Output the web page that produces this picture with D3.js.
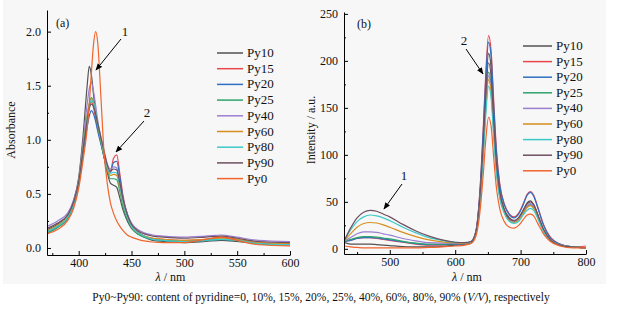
<!DOCTYPE html>
<html>
<head>
<meta charset="utf-8">
<script src="https://cdn.jsdelivr.net/npm/d3@7"></script>
<style>
  body { margin: 0; background: #fff; }
  svg text { font-family: 'Liberation Serif', 'Times New Roman', 'DejaVu Serif', serif !important; }
</style>
</head>
<body>
<div id="chart"></div>
<script>
// ---- data -----------------------------------------------------------------
const seriesNames = ['Py10', 'Py15', 'Py20', 'Py25', 'Py40', 'Py60', 'Py80', 'Py90', 'Py0'];
const seriesColors = ['#525252', '#e8474c', '#2f6fc4', '#2ea36e', '#9b7fd0', '#d68f1e', '#3ec9c9', '#6e5060', '#f2642c'];

// (a) absorbance
const waveA = [370, 380, 390, 395, 400, 404, 408, 410, 412, 414, 416, 418, 421, 424, 427, 430, 433, 436, 439, 442, 446, 450, 456, 462, 470, 480, 500, 520, 535, 550, 570, 600];
const absPy10 = [0.17, 0.22, 0.31, 0.43, 0.65, 1.02, 1.5, 1.68, 1.6, 1.42, 1.25, 1.12, 0.98, 0.84, 0.7, 0.6, 0.58, 0.56, 0.46, 0.35, 0.25, 0.18, 0.13, 0.1, 0.07, 0.06, 0.05, 0.06, 0.07, 0.06, 0.04, 0.03];
const absPy15 = [0.14, 0.19, 0.28, 0.39, 0.58, 0.88, 1.18, 1.3, 1.35, 1.3, 1.2, 1.1, 0.98, 0.86, 0.7, 0.71, 0.83, 0.86, 0.68, 0.48, 0.31, 0.21, 0.15, 0.11, 0.09, 0.08, 0.07, 0.08, 0.1, 0.08, 0.05, 0.04];
const absPy20 = [0.15, 0.2, 0.29, 0.4, 0.58, 0.86, 1.12, 1.22, 1.27, 1.24, 1.17, 1.08, 0.96, 0.84, 0.73, 0.7, 0.79, 0.8, 0.65, 0.46, 0.3, 0.2, 0.14, 0.11, 0.08, 0.07, 0.06, 0.07, 0.08, 0.07, 0.04, 0.03];
const absPy25 = [0.14, 0.19, 0.28, 0.39, 0.6, 0.92, 1.22, 1.33, 1.39, 1.35, 1.25, 1.13, 0.98, 0.84, 0.72, 0.64, 0.64, 0.63, 0.52, 0.38, 0.27, 0.19, 0.13, 0.1, 0.08, 0.07, 0.06, 0.07, 0.08, 0.07, 0.04, 0.03];
const absPy40 = [0.2, 0.25, 0.33, 0.44, 0.63, 0.96, 1.33, 1.47, 1.53, 1.45, 1.32, 1.18, 1.03, 0.9, 0.78, 0.73, 0.75, 0.74, 0.6, 0.45, 0.32, 0.23, 0.17, 0.14, 0.12, 0.11, 0.1, 0.11, 0.12, 0.1, 0.07, 0.06];
const absPy60 = [0.16, 0.21, 0.3, 0.41, 0.61, 0.93, 1.22, 1.33, 1.38, 1.34, 1.25, 1.14, 1.0, 0.86, 0.74, 0.67, 0.68, 0.67, 0.55, 0.41, 0.29, 0.2, 0.14, 0.11, 0.09, 0.08, 0.07, 0.08, 0.09, 0.08, 0.05, 0.04];
const absPy80 = [0.15, 0.2, 0.29, 0.4, 0.6, 0.91, 1.2, 1.32, 1.37, 1.34, 1.26, 1.15, 1.01, 0.87, 0.75, 0.69, 0.7, 0.69, 0.57, 0.42, 0.29, 0.2, 0.14, 0.11, 0.08, 0.07, 0.06, 0.07, 0.08, 0.07, 0.04, 0.03];
const absPy90 = [0.18, 0.23, 0.31, 0.42, 0.61, 0.9, 1.18, 1.29, 1.33, 1.31, 1.24, 1.15, 1.02, 0.89, 0.77, 0.71, 0.73, 0.72, 0.6, 0.45, 0.31, 0.22, 0.16, 0.13, 0.11, 0.1, 0.09, 0.1, 0.11, 0.09, 0.06, 0.05];
const absPy0  = [0.13, 0.17, 0.26, 0.36, 0.55, 0.8, 1.1, 1.33, 1.62, 1.88, 2.0, 1.9, 1.4, 0.88, 0.6, 0.42, 0.32, 0.25, 0.2, 0.16, 0.12, 0.1, 0.08, 0.065, 0.055, 0.05, 0.05, 0.08, 0.1, 0.07, 0.03, 0.02];

// (b) fluorescence
const waveB = [430, 440, 450, 460, 470, 480, 490, 500, 520, 540, 560, 580, 600, 615, 625, 632, 638, 643, 647, 651, 655, 659, 663, 668, 675, 683, 690, 697, 704, 710, 715, 720, 727, 735, 745, 760, 780, 800];
const flPy10 = [7, 5, 5, 5, 5, 4.5, 4, 3.5, 2.5, 2, 2, 2.5, 4, 5, 7, 18, 58, 118, 172, 208, 192, 142, 96, 62, 42, 33, 30, 33, 41, 49, 51, 47, 35, 20, 10, 4, 2, 1];
const flPy15 = [8, 9, 11, 12, 12, 11, 10, 9, 7, 5, 4, 4, 5, 5, 8, 20, 64, 130, 190, 227, 210, 156, 106, 70, 48, 37, 34, 38, 48, 58, 61, 57, 43, 26, 13, 5, 2, 3];
const flPy20 = [8, 9, 11, 12, 12, 11.5, 10.5, 9.5, 7.5, 5.5, 4.5, 4.5, 5, 5, 8, 20, 62, 126, 184, 220, 204, 151, 103, 68, 47, 36, 33, 37, 47, 57, 60, 56, 42, 25, 12, 5, 2, 1];
const flPy25 = [8, 10, 12, 13, 13, 12.5, 11.5, 10.5, 8, 6, 5, 5, 5.5, 5.5, 8, 18, 54, 108, 157, 188, 174, 129, 88, 58, 40, 31, 28, 31, 38, 45, 47, 44, 33, 20, 10, 4, 2, 1];
const flPy40 = [8, 12, 16, 18, 18, 17.5, 16, 14.5, 11, 8.5, 6.5, 6, 6, 6, 8, 18, 53, 106, 154, 184, 170, 126, 86, 57, 40, 31, 29, 32, 39, 46, 48, 45, 34, 20, 10, 4, 2, 1];
const flPy60 = [8, 16, 23, 27, 28, 27.5, 25.5, 23, 17.5, 13, 9.5, 7.5, 6.5, 6, 8, 18, 52, 104, 151, 180, 166, 123, 84, 56, 39, 30, 28, 31, 38, 44, 46, 43, 33, 19, 10, 4, 2, 1];
const flPy80 = [8, 20, 29, 34, 36, 35, 33, 30, 23, 17, 12, 9, 7, 6.5, 8, 17, 50, 100, 145, 173, 160, 118, 81, 54, 38, 29, 27, 29, 36, 41, 43, 41, 31, 18, 9, 4, 2, 1];
const flPy90 = [8, 22, 33, 39, 41, 40, 37, 34, 26, 19, 13.5, 9.5, 7, 6.5, 8, 19, 57, 114, 166, 198, 183, 135, 92, 61, 42, 32, 30, 33, 41, 48, 50, 47, 35, 21, 10, 4, 2, 1];
const flPy0  = [3, 2, 1.5, 1, 1, 1, 1, 1, 1, 1, 1.5, 2, 3, 4, 6, 14, 40, 80, 118, 140, 130, 96, 65, 43, 29, 23, 22, 25, 31, 36, 37, 35, 26, 16, 8, 3, 1, 1];

const absValues = [absPy10, absPy15, absPy20, absPy25, absPy40, absPy60, absPy80, absPy90, absPy0];
const flValues  = [flPy10, flPy15, flPy20, flPy25, flPy40, flPy60, flPy80, flPy90, flPy0];

const xTicksA = [400, 450, 500, 550, 600], xMinorA = [375, 425, 475, 525, 575];
const yTicksA = [0, 0.5, 1.0, 1.5, 2.0],  yMinorA = [0.25, 0.75, 1.25, 1.75];
const xTicksB = [500, 600, 700, 800],      xMinorB = [450, 550, 650, 750];
const yTicksB = [0, 50, 100, 150, 200, 250], yMinorB = [25, 75, 125, 175, 225];

// ---- drawing --------------------------------------------------------------
const W = 620, H = 312;
const FONT = "'Liberation Serif', 'Times New Roman', 'DejaVu Serif', serif";
const svg = d3.select('#chart').append('svg')
    .attr('width', W).attr('height', H)
    .attr('font-family', FONT);

// light grey plate behind both panels
svg.append('rect').attr('x', 3).attr('y', 0).attr('width', 603).attr('height', 284).attr('fill', '#f7f7f7');

const defs = svg.append('defs');
defs.append('marker')
    .attr('id', 'arrow')
    .attr('viewBox', '0 -5 10 10')
    .attr('refX', 9).attr('refY', 0)
    .attr('markerWidth', 7).attr('markerHeight', 7)
    .attr('markerUnits', 'userSpaceOnUse')
    .attr('orient', 'auto')
  .append('path').attr('d', 'M0,-4L10,0L0,4Z').attr('fill', '#000');

function panel(opt) {
    const x = d3.scaleLinear().domain(opt.xDomain).range(opt.xRange);
    const y = d3.scaleLinear().domain(opt.yDomain).range(opt.yRange);
    const g = svg.append('g');

    const clipId = 'clip_' + opt.id;
    defs.append('clipPath').attr('id', clipId).append('rect')
        .attr('x', opt.xRange[0]).attr('y', opt.yRange[1])
        .attr('width', opt.xRange[1] - opt.xRange[0])
        .attr('height', opt.yRange[0] - opt.yRange[1]);

    // spectra
    const line = d3.line()
        .x((d, i) => x(opt.wave[i]))
        .y(d => y(d))
        .curve(d3.curveMonotoneX);
    const lines = g.append('g').attr('clip-path', `url(#${clipId})`);
    opt.values.forEach((vals, k) => {
        lines.append('path')
            .attr('d', line(vals))
            .attr('fill', 'none')
            .attr('stroke', seriesColors[k])
            .attr('stroke-width', 1.2);
    });

    // axes (ticks point inward)
    const y0 = opt.yRange[0], x0 = opt.xRange[0];
    const styleAxis = sel => {
        sel.attr('font-family', FONT);
        sel.selectAll('text').attr('font-size', 12).attr('fill', '#111');
        sel.selectAll('line, path').attr('stroke', '#000');
    };
    g.append('g').attr('transform', `translate(0,${y0})`)
        .call(d3.axisBottom(x).tickValues(opt.xMinor).tickSize(-2).tickSizeOuter(0).tickFormat(''))
        .call(s => s.select('.domain').remove()).call(styleAxis);
    g.append('g').attr('transform', `translate(${x0},0)`)
        .call(d3.axisLeft(y).tickValues(opt.yMinor).tickSize(-2).tickSizeOuter(0).tickFormat(''))
        .call(s => s.select('.domain').remove()).call(styleAxis);
    g.append('g').attr('transform', `translate(0,${y0})`)
        .call(d3.axisBottom(x).tickValues(opt.xTicks).tickSize(-4).tickSizeOuter(0).tickPadding(3).tickFormat(d3.format('d')))
        .call(styleAxis);
    g.append('g').attr('transform', `translate(${x0},0)`)
        .call(d3.axisLeft(y).tickValues(opt.yTicks).tickSize(-4).tickSizeOuter(0).tickPadding(6).tickFormat(opt.yFormat))
        .call(styleAxis);

    // axis titles
    const xt = g.append('text')
        .attr('x', (opt.xRange[0] + opt.xRange[1]) / 2 + 2).attr('y', 281)
        .attr('text-anchor', 'middle').attr('font-size', 12).attr('fill', '#111');
    xt.append('tspan').attr('font-style', 'italic').text('λ');
    xt.append('tspan').text(' / nm');
    g.append('text')
        .attr('transform', `translate(${opt.yTitleX},${opt.yTitleY}) rotate(-90)`)
        .attr('text-anchor', 'middle').attr('font-size', 12).attr('fill', '#111')
        .text(opt.yTitle);

    // panel tag
    g.append('text').attr('x', opt.tag[0]).attr('y', opt.tag[1])
        .attr('font-size', 12).attr('fill', '#111').text(opt.tagText);

    // legend
    seriesNames.forEach((name, k) => {
        const ly = opt.legend.y + k * opt.legend.dy;
        g.append('line')
            .attr('x1', opt.legend.x).attr('x2', opt.legend.x + opt.legend.len)
            .attr('y1', ly).attr('y2', ly)
            .attr('stroke', seriesColors[k]).attr('stroke-width', 1.5);
        g.append('text')
            .attr('x', opt.legend.x + opt.legend.len + 4).attr('y', ly + 4)
            .attr('font-size', 13).attr('fill', '#111').text(name);
    });

    // numbered arrows
    opt.arrows.forEach(a => {
        g.append('line')
            .attr('x1', a.from[0]).attr('y1', a.from[1])
            .attr('x2', a.to[0]).attr('y2', a.to[1])
            .attr('stroke', '#000').attr('stroke-width', 1)
            .attr('marker-end', 'url(#arrow)');
        g.append('text').attr('x', a.label[0]).attr('y', a.label[1])
            .attr('text-anchor', 'middle').attr('font-size', 13).attr('fill', '#111')
            .text(a.text);
    });
}

panel({
    id: 'a', wave: waveA, values: absValues,
    xDomain: [370, 600], xRange: [47, 290],
    yDomain: [-0.065, 2.2], yRange: [255, 10],
    xTicks: xTicksA, xMinor: xMinorA, yTicks: yTicksA, yMinor: yMinorA,
    yFormat: d3.format('.1f'),
    yTitle: 'Absorbance', yTitleX: 15, yTitleY: 130,
    tag: [56, 27], tagText: '(a)',
    legend: { x: 217, y: 53, dy: 15.7, len: 26 },
    arrows: [
        { from: [121, 39], to: [96, 70], label: [125, 36], text: '1' },
        { from: [144, 121], to: [116, 152], label: [147, 117], text: '2' }
    ]
});

panel({
    id: 'b', wave: waveB, values: flValues,
    xDomain: [430, 800], xRange: [344, 586],
    yDomain: [-5.5, 252], yRange: [254, 12],
    xTicks: xTicksB, xMinor: xMinorB, yTicks: yTicksB, yMinor: yMinorB,
    yFormat: d3.format('d'),
    yTitle: 'Intensity / a.u.', yTitleX: 315, yTitleY: 130,
    tag: [357, 28], tagText: '(b)',
    legend: { x: 523, y: 46, dy: 15.6, len: 29 },
    arrows: [
        { from: [466, 49], to: [483, 74], label: [464, 45], text: '2' },
        { from: [402, 184], to: [384, 209], label: [404, 180], text: '1' }
    ]
});

// caption
const cap = svg.append('text').attr('x', 321).attr('y', 301)
    .attr('text-anchor', 'middle').attr('font-size', 11.5).attr('fill', '#111');
cap.append('tspan').text('Py0~Py90: content of pyridine=0, 10%, 15%, 20%, 25%, 40%, 60%, 80%, 90% (');
cap.append('tspan').attr('font-style', 'italic').text('V/V');
cap.append('tspan').text('), respectively');
</script>
</body>
</html>
